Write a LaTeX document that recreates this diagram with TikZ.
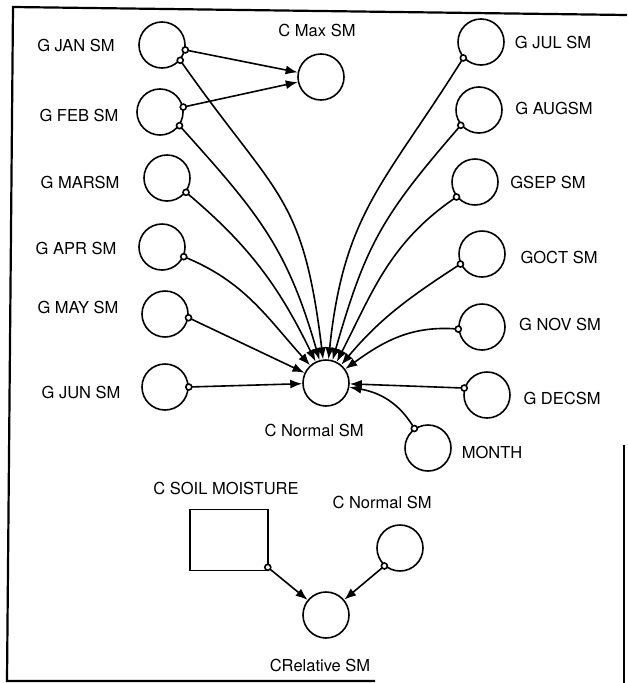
\documentclass[tikz,border=0pt]{standalone}
\usepackage{fontspec}
\setmainfont{TeX Gyre Heros}
\usetikzlibrary{arrows.meta}

\begin{document}
\begin{tikzpicture}[x = 1pt, y = -1pt, > = {Latex[length = 12pt, width = 9pt]},
	font = \fontsize{16.5}{18}\selectfont,
	var/.style = {circle, draw, line width = 1.6pt, minimum size = 46pt, inner sep = 0pt},
	link/.style = {->, line width = 1.6pt},
	tap/.style = {draw, fill = white, line width = 1.6pt},
	frame/.style = {line width = 2.2pt}]

	\useasboundingbox (0, 0) rectangle (627, 683);

	% frame, partly lost in the scan
	\draw [frame] (627, 15) -- (13, 7) -- (7, 681) -- (375, 681);
	\draw [frame] (624, 445) -- (624, 683);

	% monthly values
	\foreach \n/\x/\y/\lx/\ly/\t in {jan/162/45/76/45/G JAN SM, feb/160/112/79/115/G FEB SM,
		mar/167/178/80/182/G MARSM, apr/162/247/76/248/G APR SM, may/165/314/78/307/G MAY SM,
		jun/165/387/81/392/G JUN SM, jul/481/42/553/42/G JUL SM, aug/479/110/554/108/G AUGSM,
		sep/475/182/548/182/GSEP SM, oct/482/254/559/257/GOCT SM, nov/482/327/560/324/G NOV SM,
		dec/487/395/562/398/G DECSM}
	{
		\node [var] (\n) at (\x, \y) {};
		\node (\n-lbl) at (\lx, \ly) {\t};
	}

	\node [var] (max) at (321, 77) {};
	\node (max-lbl) at (317, 30) {C Max SM};
	\node [var] (normal) at (326, 383) {};
	\node (normal-lbl) at (314, 430) {C Normal SM};
	\node [var] (month) at (428, 448) {};
	\node (month-lbl) at (492, 452) {MONTH};

	% relative soil moisture
	\node [draw, line width = 1.6pt, minimum width = 78pt, minimum height = 61pt] (soil) at (229, 540) {};
	\node (soil-lbl) at (226, 488) {C SOIL MOISTURE};
	\node [var] (ghost) at (400, 548) {};
	\node (ghost-lbl) at (382, 502) {C Normal SM};
	\node [var] (relative) at (326, 615) {};
	\node (relative-lbl) at (320, 665) {CRelative SM};

	\draw [link] (jan.-12) -- (max);
	\draw [link] (feb.12) -- (max);

	\draw [link] (jan.-40) to [out = -55, in = 97, looseness = 1.3] (normal);
	\draw [link] (feb.-35) to [out = -48, in = 106, looseness = 1.1] (normal);
	\draw [link] (mar.-37) to [out = -40, in = 116] (normal);
	\draw [link] (apr.-24) to [out = -22, in = 132] (normal);
	\draw [link] (may.-9) -- (normal);
	\draw [link] (jun.0) -- (normal);
	\draw [link] (jul.-138) to [out = -122, in = 84, looseness = 1.15] (normal);
	\draw [link] (aug.-140) to [out = -131, in = 74, looseness = 1.15] (normal);
	\draw [link] (sep.-141) to [out = -146, in = 63] (normal);
	\draw [link] (oct.-155) to [out = -147, in = 50] (normal);
	\draw [link] (nov.-175) to [out = 175, in = 36] (normal);
	\draw [link] (dec.163) -- (normal);
	\draw [link] (month.125) to [out = 120, in = -10] (normal);

	\draw [link] ([xshift = -1pt, yshift = 4pt] soil.south east) -- (relative);
	\draw [link] (ghost.229) -- (relative);

	\foreach \p in {jan.-12, jan.-40, feb.12, feb.-35, mar.-37, apr.-24, may.-9, jun.0,
		jul.-138, aug.-140, sep.-141, oct.-155, nov.-175, dec.163, month.125, ghost.229}
		\draw [tap] (\p) circle (3pt);
	\draw [tap] ([xshift = -1pt, yshift = 4pt] soil.south east) circle (3pt);

\end{tikzpicture}
\end{document}
